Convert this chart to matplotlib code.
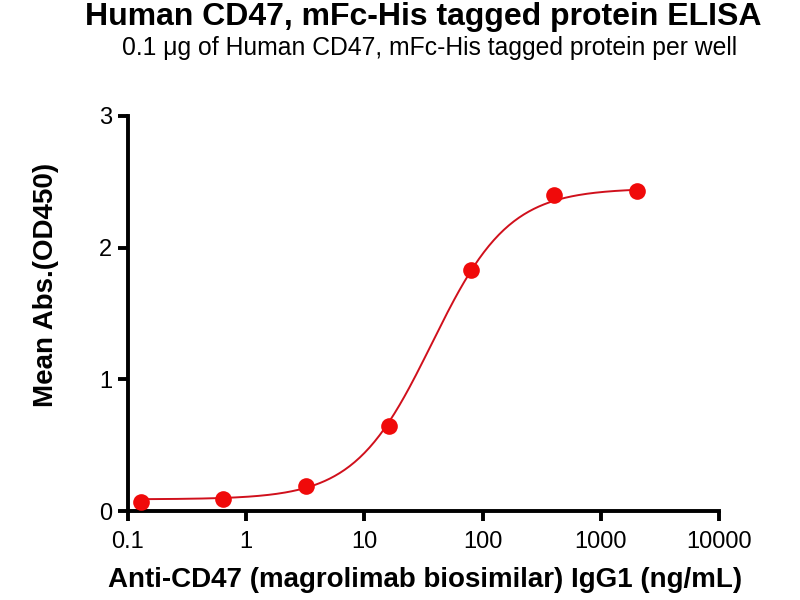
import numpy as np
import matplotlib
matplotlib.use('Agg')
import matplotlib.pyplot as plt

plt.rcParams['font.family'] = ['Liberation Sans', 'DejaVu Sans']

# ELISA data, 5-fold dilution series
conc = [0.128, 0.64, 3.2, 16, 80, 400, 2000]
od450 = [0.07, 0.09, 0.19, 0.65, 1.83, 2.40, 2.43]

# 4PL fit parameters (bottom, top, EC50, hill)
bottom = 0.09
top = 2.45
ec50 = 37.0
hill = 1.33

title = 'Human CD47, mFc-His tagged protein ELISA'
subtitle = '0.1 \u03bcg of Human CD47, mFc-His tagged protein per well'
xlabel = 'Anti-CD47 (magrolimab biosimilar) IgG1 (ng/mL)'
ylabel = 'Mean Abs.(OD450)'
xticks = [0.1, 1, 10, 100, 1000, 10000]
xticklabels = ['0.1', '1', '10', '100', '1000', '10000']
yticks = [0, 1, 2, 3]

fig = plt.figure(figsize=(8, 6), dpi=100)
ax = fig.add_axes([0.16, 0.148, 0.739, 0.659])

xfit = np.logspace(np.log10(0.128), np.log10(2000), 300)
yfit = bottom + (top - bottom) / (1 + (ec50 / xfit) ** hill)
ax.plot(xfit, yfit, color='#d0101c', lw=1.4, zorder=2)
ax.plot(conc, od450, 'o', color='#f00a0a', ms=12, mec='none', zorder=3,
        clip_on=False)

ax.set_xscale('log')
ax.set_xlim(0.1, 10000)
ax.set_ylim(0, 3)
ax.set_xticks(xticks)
ax.set_xticklabels(xticklabels)
ax.xaxis.set_minor_locator(matplotlib.ticker.NullLocator())
ax.set_yticks(yticks)

for s in ['top', 'right']:
    ax.spines[s].set_visible(False)
for s in ['left', 'bottom']:
    ax.spines[s].set_linewidth(2.8)
ax.tick_params(axis='both', width=2.8, length=7.5, labelsize=17)
ax.tick_params(axis='x', pad=7)
ax.tick_params(axis='y', pad=4)

fig.text(0.531, 0.033, xlabel, ha='center', va='center', fontsize=20, fontweight='bold')
fig.text(0.057, 0.525, ylabel, ha='center', va='center', fontsize=20,
         fontweight='bold', rotation=90)

fig.text(0.529, 0.972, title, ha='center', va='center', fontsize=23, fontweight='bold')
fig.text(0.537, 0.92, subtitle, ha='center', va='center', fontsize=17.8)

fig.savefig('out.png', dpi=100)
